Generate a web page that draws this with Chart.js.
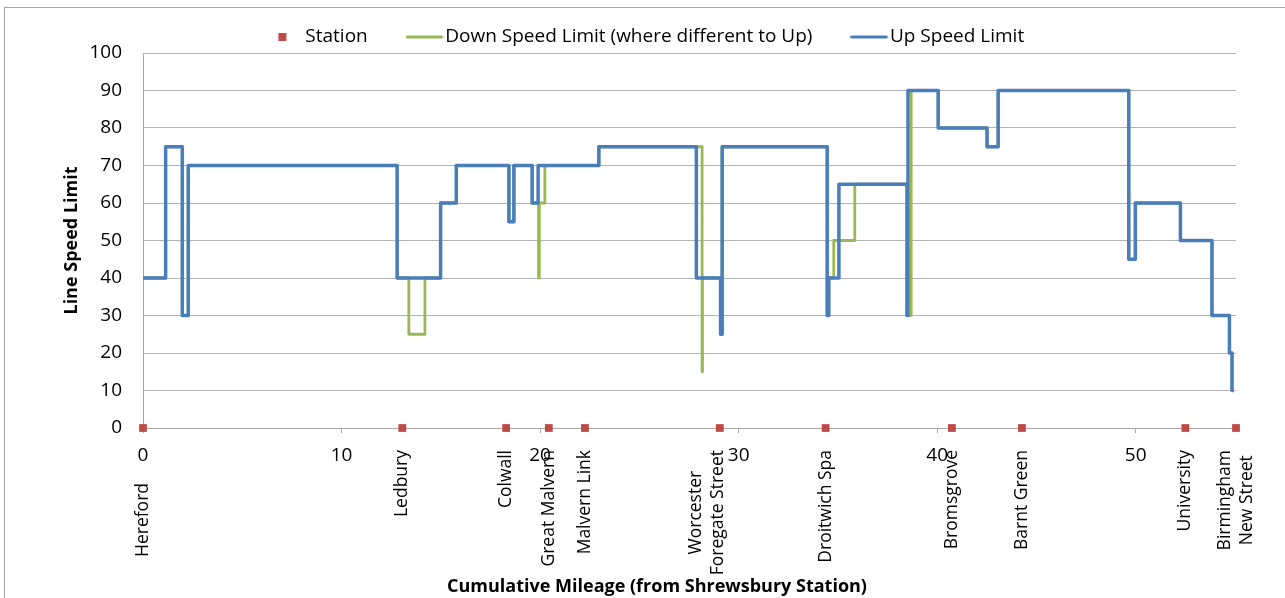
<!DOCTYPE html>
<html>
<head>
<meta charset="utf-8">
<script src="https://cdn.jsdelivr.net/npm/chart.js@4.4.0/dist/chart.umd.min.js"></script>
<style>
  body { margin: 0; background: #fff; }
  #wrap { position: relative; width: 1285px; height: 598px; overflow: hidden; }
  #frame { position: absolute; left: 4px; top: 7px; width: 1300px; height: 620px; border: 1px solid #a6a6a6; pointer-events: none; }
  canvas { position: absolute; left: 0; top: 0; }
</style>
</head>
<body>
<div id="wrap">
  <canvas id="grafico" width="1285" height="598"></canvas>
  <div id="frame"></div>
</div>
<script>
// Estações (milhagem acumulada a partir de Shrewsbury)
const stationNames = ['Hereford', 'Ledbury', 'Colwall', 'Great Malvern', 'Malvern Link',
  ['Worcester', 'Foregate Street'], 'Droitwich Spa', 'Bromsgrove', 'Barnt Green', 'University',
  ['Birmingham', 'New Street']];
const stationMiles = [0, 13.06, 18.29, 20.44, 22.26, 29.05, 34.38, 40.74, 44.27, 52.5, 55.05];

// Limite de velocidade "Up": cada valor vale a partir da milha indicada
const upMiles = [0, 1.14, 1.98, 2.28, 12.80, 14.99, 15.78, 18.43, 18.68, 19.60, 19.90, 22.96,
  27.87, 29.09, 29.17, 34.46, 34.54, 35.05, 38.48, 38.53, 40.05, 42.51, 43.07, 49.65, 49.98,
  52.25, 53.84, 54.72, 54.85, 54.93];
const upSpeeds = [40, 75, 30, 70, 40, 60, 70, 55, 70, 60, 70, 75,
  40, 25, 75, 30, 40, 65, 30, 90, 80, 75, 90, 45, 60,
  50, 30, 20, 10, 10];

// Limite "Down" (só aparece onde é diferente do Up)
const downMiles = [0, 1.14, 1.98, 2.28, 12.80, 13.39, 14.20, 14.99, 15.78, 18.43, 18.68, 19.60,
  19.92, 19.96, 20.24, 22.96, 28.16, 28.18, 29.09, 29.17, 34.46, 34.54, 34.79, 35.85, 38.48,
  38.69, 40.05, 42.51, 43.07, 49.65, 49.98, 52.25, 53.84, 54.72, 54.85, 54.93];
const downSpeeds = [40, 75, 30, 70, 40, 25, 40, 60, 70, 55, 70, 60,
  40, 60, 70, 75, 15, 40, 25, 75, 30, 40, 50, 65, 30,
  90, 80, 75, 90, 45, 60, 50, 30, 20, 10, 10];

// Rótulos do eixo x
const tickMiles = [0, 10, 20, 30, 40, 50];

const corUp = '#4A7EBB';
const corDown = '#98B954';
const corEstacao = '#BE4B48';
const fonte = { family: '"Open Sans", sans-serif', size: 19 };
const fonteNegrito = { family: '"Open Sans", sans-serif', size: 18, weight: 'bold' };

// Ícones da legenda (a caixa é estreita, o desenho passa para a esquerda dela)
function iconeLinha(cor) {
  const c = document.createElement('canvas');
  c.width = 54; c.height = 8;
  const g = c.getContext('2d');
  g.strokeStyle = cor; g.lineWidth = 3; g.lineCap = 'round';
  g.beginPath(); g.moveTo(1.5, 4); g.lineTo(36, 4); g.stroke();
  return c;
}
function iconeQuadrado(cor) {
  const c = document.createElement('canvas');
  c.width = 54; c.height = 8;
  const g = c.getContext('2d');
  g.fillStyle = cor;
  g.fillRect(12.5, 0, 8, 8);
  return c;
}
const iconesLegenda = [iconeQuadrado(corEstacao), iconeLinha(corDown), iconeLinha(corUp)];

// Nomes das estações, rodados, por baixo do eixo
const rotulosEstacoes = {
  id: 'rotulosEstacoes',
  afterDraw(chart) {
    const ctx = chart.ctx;
    const eixo = chart.scales.x;
    const alturaLinha = 22;
    ctx.save();
    // extensão dos números do eixo
    ctx.font = '19px "Open Sans", sans-serif';
    const numeros = tickMiles.map(function(v) {
      const p = eixo.getPixelForValue(v);
      const w = ctx.measureText(String(v)).width;
      return { centro: p, esq: p - w / 2, dir: p + w / 2 };
    });
    ctx.font = '17.5px "Open Sans", sans-serif';
    ctx.fillStyle = '#000';
    ctx.textAlign = 'center';
    ctx.textBaseline = 'middle';
    stationNames.forEach(function(nome, i) {
      const linhas = Array.isArray(nome) ? nome : [nome];
      let px = eixo.getPixelForValue(stationMiles[i]);
      const maior = Math.max(...linhas.map(l => ctx.measureText(l).width));
      // se bate num número do eixo, desce o rótulo
      const colide = numeros.some(n => Math.abs(n.centro - px) < 6);
      const topo = eixo.top + (colide ? 55 : 22);
      // rótulos de duas linhas fogem dos números para a esquerda
      if (linhas.length > 1 && !colide) {
        const dir = px + (linhas.length - 1) / 2 * alturaLinha + 9;
        numeros.forEach(function(n) {
          if (dir > n.esq && px < n.dir) px -= dir - n.esq + 1;
        });
      }
      linhas.forEach(function(linha, j) {
        const lx = px + (j - (linhas.length - 1) / 2) * alturaLinha;
        ctx.save();
        ctx.translate(lx, topo + maior / 2);
        ctx.rotate(-Math.PI / 2);
        ctx.fillText(linha, 0, 0);
        ctx.restore();
      });
    });
    ctx.restore();
  }
};

var ctxGrafico = document.getElementById('grafico').getContext('2d');
var grafico = new Chart(ctxGrafico, {
  type: 'line',
  data: {
    datasets: [{
      label: 'Station',
      data: stationMiles.map(m => ({ x: m, y: 0 })),
      showLine: false,
      pointStyle: 'rect',
      pointRadius: 5.5,
      pointBorderWidth: 0,
      backgroundColor: corEstacao,
      borderColor: corEstacao,
      clip: false,
      order: 0
    }, {
      label: 'Down Speed Limit (where different to Up)',
      data: downMiles.map((m, i) => ({ x: m, y: downSpeeds[i] })),
      stepped: 'before',
      borderColor: corDown,
      backgroundColor: corDown,
      borderWidth: 2.8,
      pointRadius: 0,
      borderJoinStyle: 'round',
      order: 2
    }, {
      label: 'Up Speed Limit',
      data: upMiles.map((m, i) => ({ x: m, y: upSpeeds[i] })),
      stepped: 'before',
      borderColor: corUp,
      backgroundColor: corUp,
      borderWidth: 3.5,
      pointRadius: 0,
      borderJoinStyle: 'round',
      order: 1
    }]
  },
  options: {
    responsive: false,
    animation: false,
    events: [],
    layout: { padding: { left: 78, right: 49, top: -34.5, bottom: 0 } },
    scales: {
      x: {
        type: 'linear',
        min: 0,
        max: 55.05,
        afterBuildTicks: axis => { axis.ticks = tickMiles.map(v => ({ value: v })); },
        afterFit: axis => { axis.height = 148.4; },
        grid: { drawOnChartArea: false, drawTicks: true, tickLength: 5, color: '#a6a6a6' },
        border: { color: '#a6a6a6' },
        ticks: { padding: 11, color: '#000', font: fonte, maxRotation: 0, autoSkip: false }
      },
      y: {
        min: 0,
        max: 100,
        afterFit: axis => { axis.width = 65; },
        ticks: { stepSize: 10, padding: 21, color: '#000', font: fonte },
        grid: { color: '#b3b3b3', drawTicks: false },
        border: { color: '#a6a6a6' },
        title: { display: true, text: 'Line Speed Limit', color: '#000', font: fonteNegrito, padding: { top: -16.8, bottom: 0 } }
      }
    },
    plugins: {
      tooltip: { enabled: false },
      title: {
        display: true,
        position: 'bottom',
        text: 'Cumulative Mileage (from Shrewsbury Station)',
        color: '#000',
        font: fonteNegrito,
        padding: { top: 0, bottom: 0 }
      },
      legend: {
        position: 'top',
        maxHeight: 87.5,
        labels: {
          usePointStyle: true,
          pointStyleWidth: 6,
          padding: 62,
          color: '#000',
          font: fonte,
          sort: (a, b) => a.datasetIndex - b.datasetIndex,
          generateLabels: function(chart) {
            return Chart.defaults.plugins.legend.labels.generateLabels(chart).map(function(item) {
              item.pointStyle = iconesLegenda[item.datasetIndex];
              return item;
            });
          }
        }
      }
    }
  },
  plugins: [rotulosEstacoes]
});
</script>
</body>
</html>
